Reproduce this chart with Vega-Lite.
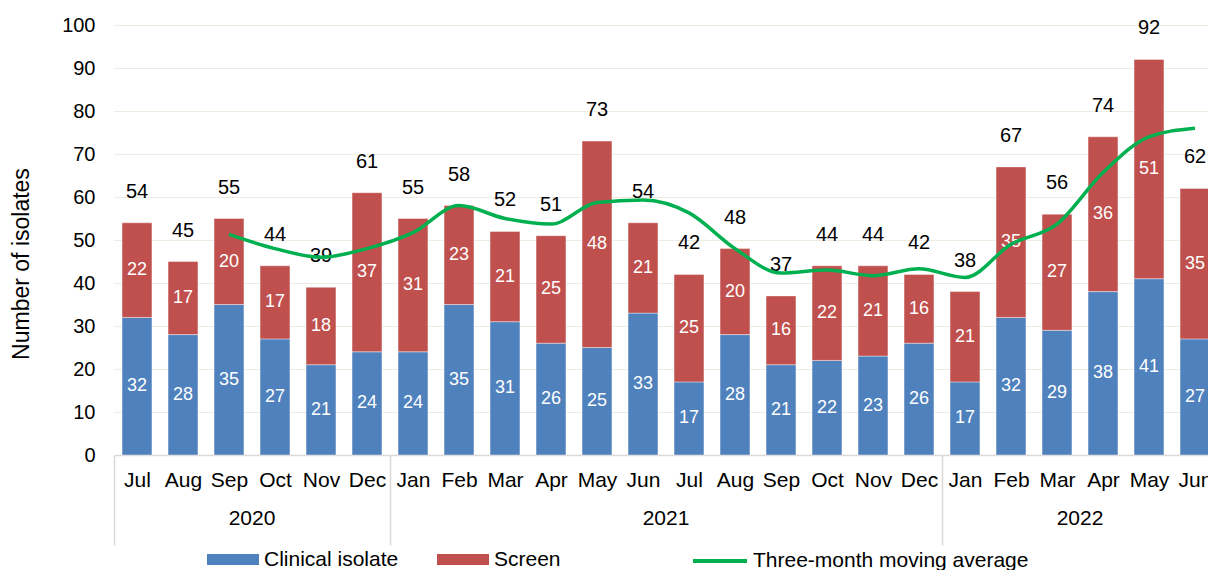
{
  "$schema": "https://vega.github.io/schema/vega-lite/v6.json",
  "width": 1094,
  "height": 430,
  "autosize": {"type": "none"},
  "padding": {"left": 114, "top": 25, "right": 0, "bottom": 115},
  "background": "white",
  "config": {
    "font": "Liberation Sans",
    "view": {"stroke": null},
    "axis": {"labelColor": "#000000", "titleColor": "#000000", "labelFont": "Liberation Sans", "titleFont": "Liberation Sans"},
    "legend": {"labelFont": "Liberation Sans", "labelColor": "#000000", "labelFontSize": 21, "padding": 0, "labelLimit": 400}
  },
  "data": {
    "values": [
      {"m": "Jul 2020", "Clinical isolate": 32, "Screen": 22, "total": 54, "ma": null},
      {"m": "Aug 2020", "Clinical isolate": 28, "Screen": 17, "total": 45, "ma": null},
      {"m": "Sep 2020", "Clinical isolate": 35, "Screen": 20, "total": 55, "ma": 51.3},
      {"m": "Oct 2020", "Clinical isolate": 27, "Screen": 17, "total": 44, "ma": 48, "yr": "2020"},
      {"m": "Nov 2020", "Clinical isolate": 21, "Screen": 18, "total": 39, "ma": 46},
      {"m": "Dec 2020", "Clinical isolate": 24, "Screen": 37, "total": 61, "ma": 48},
      {"m": "Jan 2021", "Clinical isolate": 24, "Screen": 31, "total": 55, "ma": 51.7},
      {"m": "Feb 2021", "Clinical isolate": 35, "Screen": 23, "total": 58, "ma": 58},
      {"m": "Mar 2021", "Clinical isolate": 31, "Screen": 21, "total": 52, "ma": 55},
      {"m": "Apr 2021", "Clinical isolate": 26, "Screen": 25, "total": 51, "ma": 53.7},
      {"m": "May 2021", "Clinical isolate": 25, "Screen": 48, "total": 73, "ma": 58.7},
      {"m": "Jun 2021", "Clinical isolate": 33, "Screen": 21, "total": 54, "ma": 59.3},
      {"m": "Jul 2021", "Clinical isolate": 17, "Screen": 25, "total": 42, "ma": 56.3, "yr": "2021"},
      {"m": "Aug 2021", "Clinical isolate": 28, "Screen": 20, "total": 48, "ma": 48},
      {"m": "Sep 2021", "Clinical isolate": 21, "Screen": 16, "total": 37, "ma": 42.3},
      {"m": "Oct 2021", "Clinical isolate": 22, "Screen": 22, "total": 44, "ma": 43},
      {"m": "Nov 2021", "Clinical isolate": 23, "Screen": 21, "total": 44, "ma": 41.7},
      {"m": "Dec 2021", "Clinical isolate": 26, "Screen": 16, "total": 42, "ma": 43.3},
      {"m": "Jan 2022", "Clinical isolate": 17, "Screen": 21, "total": 38, "ma": 41.3},
      {"m": "Feb 2022", "Clinical isolate": 32, "Screen": 35, "total": 67, "ma": 49},
      {"m": "Mar 2022", "Clinical isolate": 29, "Screen": 27, "total": 56, "ma": 53.7},
      {"m": "Apr 2022", "Clinical isolate": 38, "Screen": 36, "total": 74, "ma": 65.7, "yr": "2022"},
      {"m": "May 2022", "Clinical isolate": 41, "Screen": 51, "total": 92, "ma": 74},
      {"m": "Jun 2022", "Clinical isolate": 27, "Screen": 35, "total": 62, "ma": 76}
    ]
  },
  "encoding": {
    "x": {
      "field": "m",
      "type": "ordinal",
      "sort": null,
      "scale": {"range": [0, 1104], "paddingInner": 0.35, "paddingOuter": 0.175},
      "axis": {
        "title": null,
        "bandPosition": 0,
        "tickOffset": -8,
        "labelOffset": 8,
        "labelExpr": "split(datum.value, ' ')[0]",
        "labelFontSize": 21,
        "labelAngle": 0,
        "labelPadding": -76,
        "tickSize": 90,
        "tickWidth": 1.5,
        "tickColor": {"condition": {"test": "indexof(['Jul 2020','Jan 2021','Jan 2022'], datum.value) >= 0", "value": "#D9D9D9"}, "value": "transparent"},
        "domainColor": "#D9D9D9",
        "domainWidth": 1.5,
        "grid": false
      }
    }
  },
  "layer": [
    {
      "transform": [{"fold": ["Clinical isolate", "Screen"], "as": ["type", "n"]}],
      "mark": {"type": "bar", "stroke": "#ffffff", "strokeOpacity": 0.4, "strokeWidth": 1},
      "encoding": {
        "y": {
          "field": "n",
          "type": "quantitative",
          "stack": "zero",
          "scale": {"domain": [0, 100], "nice": false},
          "axis": {
            "title": "Number of isolates",
            "titleFontSize": 23,
            "titleFontWeight": "normal",
            "titleBaseline": "middle",
            "titleX": -92.5,
            "titleY": 238.5,
            "values": [0, 10, 20, 30, 40, 50, 60, 70, 80, 90, 100],
            "ticks": false,
            "domain": false,
            "labelPadding": 19,
            "labelFontSize": 20,
            "gridColor": "#EEECE1",
            "gridWidth": 1
          }
        },
        "color": {
          "field": "type",
          "type": "nominal",
          "scale": {"domain": ["Clinical isolate", "Screen"], "range": ["#4F81BD", "#C0504D"]},
          "legend": {
            "title": null,
            "orient": "none",
            "direction": "horizontal",
            "legendX": 93,
            "legendY": 508.5,
            "symbolType": "M-1,-0.21H1V0.21H-1Z",
            "symbolSize": 2704,
            "symbolStrokeWidth": 0,
            "labelOffset": 5,
            "columnPadding": 38
          }
        },
        "order": {"field": "type", "type": "nominal"}
      }
    },
    {
      "transform": [{"fold": ["Clinical isolate", "Screen"], "as": ["type", "n"]}],
      "mark": {"type": "text", "color": "#ffffff", "fontSize": 18, "baseline": "middle"},
      "encoding": {
        "y": {"field": "n", "type": "quantitative", "stack": "zero", "bandPosition": 0.5},
        "detail": {"field": "type", "type": "nominal"},
        "order": {"field": "type", "type": "nominal"},
        "text": {"field": "n", "type": "quantitative"}
      }
    },
    {
      "mark": {"type": "text", "color": "#000000", "fontSize": 20, "baseline": "middle", "dy": -31},
      "encoding": {
        "y": {"field": "total", "type": "quantitative"},
        "text": {"field": "total", "type": "quantitative"}
      }
    },
    {
      "transform": [{"filter": "datum.yr != null"}],
      "mark": {"type": "text", "color": "#000000", "fontSize": 21, "baseline": "middle", "dy": 64, "dx": -8},
      "encoding": {
        "x": {"field": "m", "type": "ordinal", "sort": null, "bandPosition": 0},
        "y": {"datum": 0},
        "text": {"field": "yr", "type": "nominal"}
      }
    },
    {
      "transform": [{"filter": "datum.ma != null"}],
      "mark": {"type": "line", "strokeWidth": 3.5, "interpolate": "monotone"},
      "encoding": {
        "y": {"field": "ma", "type": "quantitative"},
        "stroke": {
          "datum": "Three-month moving average",
          "scale": {"range": ["#00B050"]},
          "legend": {
            "title": null,
            "orient": "none",
            "direction": "horizontal",
            "legendX": 577,
            "legendY": 507,
            "symbolType": "stroke",
            "symbolSize": 2916,
            "symbolStrokeWidth": 4,
            "labelOffset": 4
          }
        }
      }
    }
  ]
}
